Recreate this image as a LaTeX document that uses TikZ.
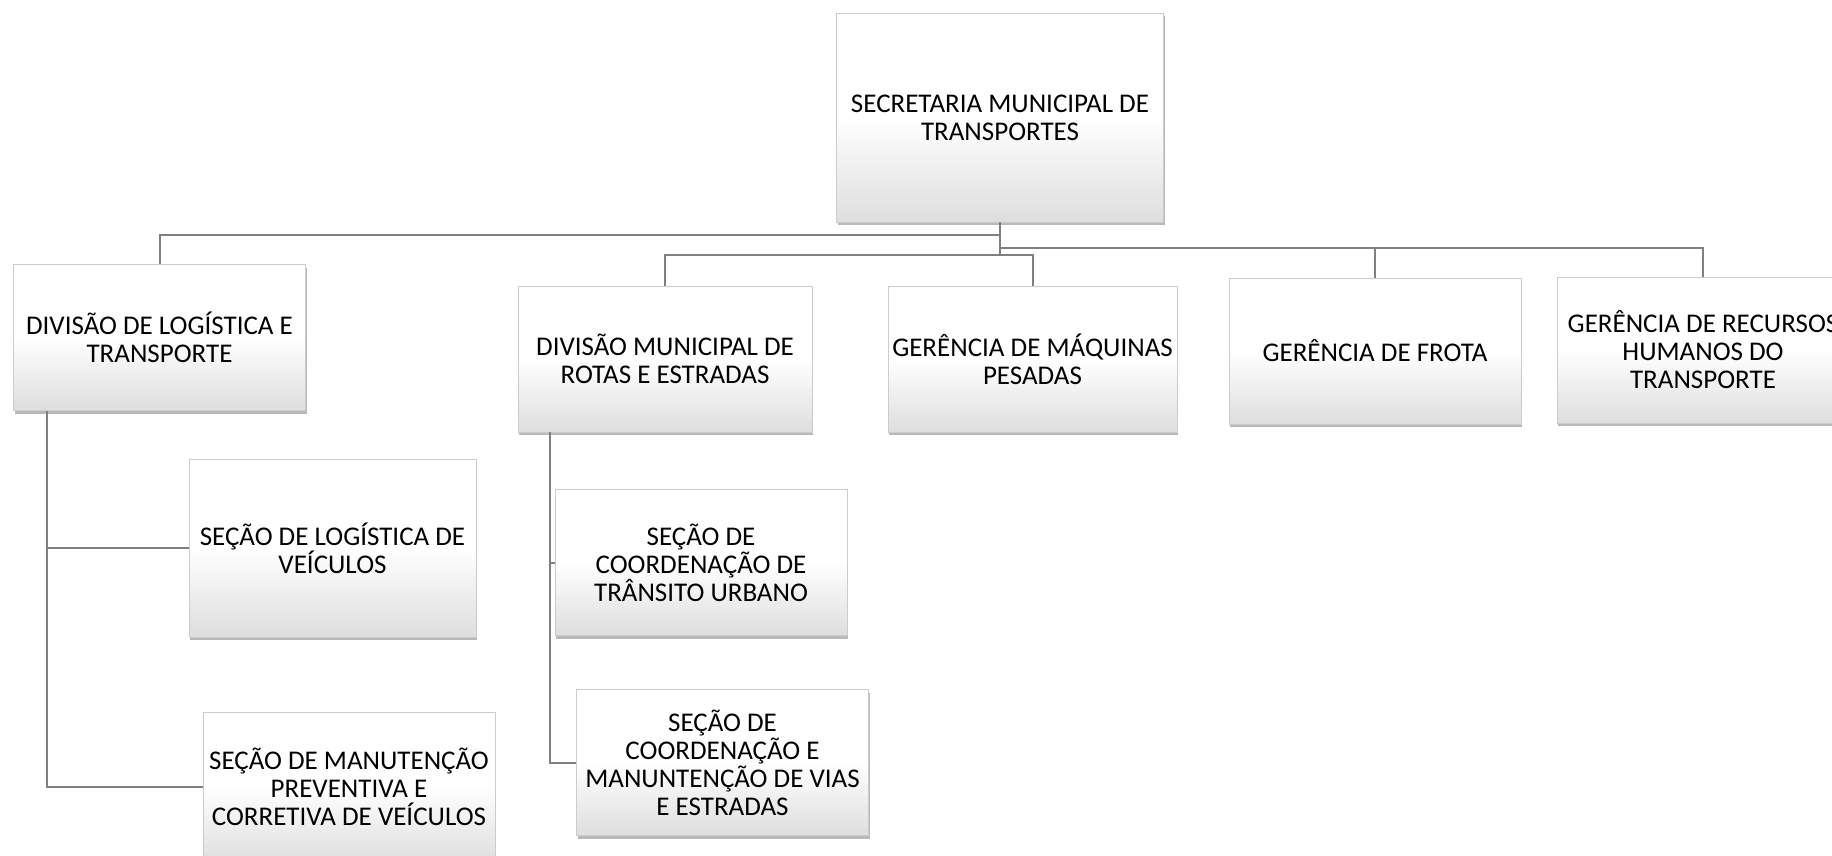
\documentclass[tikz,border=0pt]{standalone}
\usepackage{fontspec}
\setmainfont{Carlito}
\usetikzlibrary{calc}
\usetikzlibrary{shadows}

\begin{document}
\begin{tikzpicture}[
  x=0.5pt, y=-0.5pt, % one unit is one pixel of the layout
  link/.style={draw=black!50, line width=1pt}, % style of the connectors
  org box/.style={rectangle, draw=black!20, line width=0.4pt,
    top color=white, bottom color=black!13, middle color=white,
    drop shadow={shadow xshift=0.5pt, shadow yshift=-1.6pt, fill=black!55},
    align=center, inner sep=2pt, minimum width=146pt, minimum height=73pt,
    font=\fontsize{13.5}{14}\selectfont} % style of the boxes
  ]
  \useasboundingbox (0,0) rectangle (1832,856);

  \node[org box, minimum width=163.5pt, minimum height=104.5pt] (sec) at (1000,117.5) {SECRETARIA MUNICIPAL DE\\TRANSPORTES};

  \node[org box] (dlt) at (159.5,337.5) {DIVISÃO DE LOGÍSTICA E\\TRANSPORTE};
  \node[org box, minimum width=147pt] (dmre) at (665,359) {DIVISÃO MUNICIPAL DE\\ROTAS E ESTRADAS};
  \node[org box, minimum width=144.5pt] (gmp) at (1032.5,359) {GERÊNCIA DE MÁQUINAS\\PESADAS};
  \node[org box] (gf) at (1375,351) {GERÊNCIA DE FROTA};
  \node[org box] (grh) at (1703,350) {GERÊNCIA DE RECURSOS\\HUMANOS DO\\TRANSPORTE};

  \node[org box, minimum width=143.5pt, minimum height=89pt] (slv) at (332.5,548) {SEÇÃO DE LOGÍSTICA DE\\VEÍCULOS};
  \node[org box, minimum height=75pt] (smpc) at (349,787) {SEÇÃO DE MANUTENÇÃO\\PREVENTIVA E\\CORRETIVA DE VEÍCULOS};
  \node[org box] (sctu) at (701,562.5) {SEÇÃO DE\\COORDENAÇÃO DE\\TRÂNSITO URBANO};
  \node[org box] (scmv) at (722.5,762.5) {SEÇÃO DE\\COORDENAÇÃO E\\MANUNTENÇÃO DE VIAS\\E ESTRADAS};

  % bus levels under the secretaria
  \coordinate (busA) at (1000,235);
  \coordinate (busB) at (1000,248);
  \coordinate (busC) at (1000,255);
  \coordinate (dltfoot) at ([xshift=17pt]dlt.south west);
  \coordinate (dmrefoot) at ([xshift=16pt]dmre.south west);

  \draw[link] (sec.south) -- (busC);
  \draw[link] (busA) -| (dlt.north);
  \draw[link] (busC) -| (dmre.north);
  \draw[link] (busC) -| (gmp.north);
  \draw[link] (busB) -| (gf.north);
  \draw[link] (busB) -| (grh.north);

  \draw[link] (dltfoot) |- (slv.west);
  \draw[link] (dltfoot) |- (smpc.west);
  \draw[link] (dmrefoot) |- (sctu.west);
  \draw[link] (dmrefoot) |- (scmv.west);
\end{tikzpicture}
\end{document}
